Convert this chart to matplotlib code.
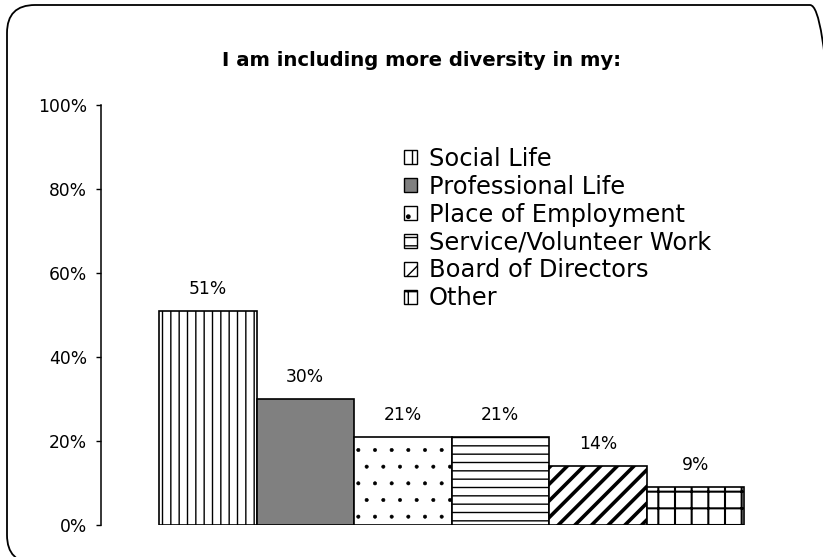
import matplotlib
matplotlib.use("Agg")
import matplotlib.pyplot as plt
from matplotlib.patches import FancyBboxPatch, Patch
from matplotlib.transforms import IdentityTransform
from matplotlib.ticker import FuncFormatter

categories = ["Social Life", "Professional Life", "Place of Employment",
              "Service/Volunteer Work", "Board of Directors", "Other"]
values = [51, 30, 21, 21, 14, 9]
labels = ["51%", "30%", "21%", "21%", "14%", "9%"]
yticks = [0, 20, 40, 60, 80, 100]
title = "I am including more diversity in my:"

facecolors = ["white", "#808080", "white", "white", "white", "white"]
hatches = ["||", None, ".", "--", "//", "+"]
hatch_lw = [1.0, 1.0, 0.4, 1.0, 2.6, 1.5]

plt.rcParams["font.family"] = ["DejaVu Sans"]

W, H = 823, 557
fig = plt.figure(figsize=(W / 100, H / 100), dpi=100)
fig.patch.set_facecolor("white")

# rounded border
border = FancyBboxPatch((7, -6), 838 - 7, 552 + 6,
                        boxstyle="round,pad=0,rounding_size=28",
                        transform=IdentityTransform(), fill=False,
                        edgecolor="black", linewidth=1.3)
fig.patches.append(border)

ax = fig.add_axes([101 / W, 1 - 524.7 / H, (803 - 101) / W, (524.7 - 104.7) / H])
x = list(range(len(values)))
for i, v in enumerate(values):
    b = ax.bar(x[i], v, width=1.0, color=facecolors[i], edgecolor="black",
               linewidth=1.2, hatch=hatches[i], zorder=2)
    for p in b:
        if hasattr(p, "set_hatch_linewidth"):
            p.set_hatch_linewidth(hatch_lw[i])

for i, v in enumerate(values):
    ax.annotate(labels[i], (x[i], v), xytext=(0, 15.5), textcoords="offset points",
                ha="center", va="center", fontsize=12.3)

ax.set_xlim(-1.095, 6.105)
ax.set_ylim(0, 100)
ax.set_yticks(yticks)
ax.yaxis.set_major_formatter(FuncFormatter(lambda v, p: f"{int(v)}%"))
ax.tick_params(axis="y", direction="out", length=3.6, width=1, pad=6.5, labelsize=12.3)
ax.set_xticks([])
for s in ["top", "right", "bottom"]:
    ax.spines[s].set_visible(False)
ax.spines["left"].set_linewidth(1.1)

fig.text(422 / W, 1 - 60 / H, title, ha="center", va="center",
         fontsize=14.1, fontweight="bold")

handles = []
for i, c in enumerate(categories):
    h = Patch(facecolor=facecolors[i], edgecolor="black", hatch=hatches[i], linewidth=1.0)
    handles.append(h)
leg = fig.legend(handles, categories, loc="upper left",
                 bbox_to_anchor=(404 / W, 1 - 147 / H), frameon=False,
                 fontsize=17.4, handlelength=0.52, handleheight=0.52,
                 handletextpad=0.5, labelspacing=0.16, borderpad=0, borderaxespad=0)

fig.savefig("out.png", dpi=100)
